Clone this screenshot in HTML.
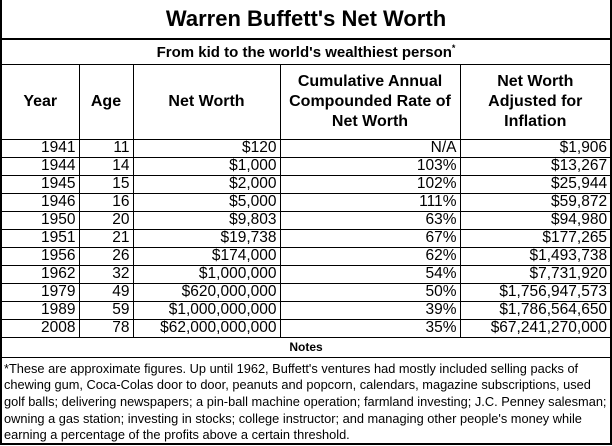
<!DOCTYPE html>
<html><head><meta charset="utf-8"><style>
body{margin:0;background:#fff;width:612px;height:446px;overflow:hidden;font-family:"Liberation Sans",Arial,sans-serif;}
#wrap{position:absolute;left:0;top:0;width:608px;height:443px;border:2px solid #000;border-top:none;overflow:hidden;}
table{border-collapse:collapse;table-layout:fixed;width:608px;}
td{padding:0 3px;border:1px solid #000;font-size:15px;color:#000;white-space:nowrap;overflow:hidden;box-sizing:border-box;}
.title td{height:39px;font-size:22px;font-weight:bold;text-align:center;border-top:none;border-bottom:2px solid #000;border-left:none;border-right:none;}
.sub td{height:25px;font-size:15px;font-weight:bold;text-align:center;border-left:none;border-right:none;}
.hdr td{height:75px;font-weight:bold;text-align:center;line-height:20px;font-size:16px;}
.row td{height:18px;text-align:right;line-height:16px;font-size:15.5px;}
.notesh td{height:20px;font-size:12px;font-weight:bold;text-align:center;border-left:none;border-right:none;}
.notes td{height:86px;font-size:12.8px;line-height:16.7px;white-space:normal;vertical-align:top;padding:3px 2px 0 2px;border:none;}
tr td:first-child{border-left:none;}
tr td:last-child{border-right:none;}
</style></head><body>
<div id="wrap">
<table>
<colgroup><col style="width:77px"><col style="width:54px"><col style="width:147px"><col style="width:180px"><col style="width:150px"></colgroup>
<tr class="title"><td colspan="5">Warren Buffett's Net Worth</td></tr>
<tr class="sub"><td colspan="5">From kid to the world's wealthiest person<sup style="font-size:9px">*</sup></td></tr>
<tr class="hdr">
<td>Year</td>
<td>Age</td>
<td>Net Worth</td>
<td>Cumulative Annual<br>Compounded Rate of<br>Net Worth</td>
<td>Net Worth<br>Adjusted for<br>Inflation</td></tr>
<tr class="row"><td>1941</td><td>11</td><td>$120</td><td>N/A</td><td>$1,906</td></tr>
<tr class="row"><td>1944</td><td>14</td><td>$1,000</td><td>103%</td><td>$13,267</td></tr>
<tr class="row"><td>1945</td><td>15</td><td>$2,000</td><td>102%</td><td>$25,944</td></tr>
<tr class="row"><td>1946</td><td>16</td><td>$5,000</td><td>111%</td><td>$59,872</td></tr>
<tr class="row"><td>1950</td><td>20</td><td>$9,803</td><td>63%</td><td>$94,980</td></tr>
<tr class="row"><td>1951</td><td>21</td><td>$19,738</td><td>67%</td><td>$177,265</td></tr>
<tr class="row"><td>1956</td><td>26</td><td>$174,000</td><td>62%</td><td>$1,493,738</td></tr>
<tr class="row"><td>1962</td><td>32</td><td>$1,000,000</td><td>54%</td><td>$7,731,920</td></tr>
<tr class="row"><td>1979</td><td>49</td><td>$620,000,000</td><td>50%</td><td>$1,756,947,573</td></tr>
<tr class="row"><td>1989</td><td>59</td><td>$1,000,000,000</td><td>39%</td><td>$1,786,564,650</td></tr>
<tr class="row"><td>2008</td><td>78</td><td>$62,000,000,000</td><td>35%</td><td>$67,241,270,000</td></tr>
<tr class="notesh"><td colspan="5">Notes</td></tr>
<tr class="notes"><td colspan="5">*These are approximate figures. Up until 1962, Buffett's ventures had mostly included selling packs of chewing gum, Coca-Colas door to door, peanuts and popcorn, calendars, magazine subscriptions, used golf balls; delivering newspapers; a pin-ball machine operation; farmland investing; J.C. Penney salesman; owning a gas station; investing in stocks; college instructor; and managing other people's money while earning a percentage of the profits above a certain threshold.</td></tr>
</table>
</div>
</body></html>
